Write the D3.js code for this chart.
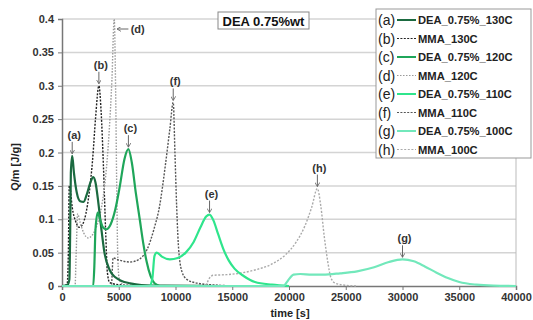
<!DOCTYPE html>
<html>
<head>
<meta charset="utf-8">
<script src="https://cdn.jsdelivr.net/npm/d3@7"></script>
<style>
  body { margin: 0; background: #fff; }
  svg { display: block; font-family: Arial, "Liberation Sans", sans-serif; }
  .tick text { font-weight: bold; font-size: 11px; fill: #333; }
  .grid line { stroke: #d4d4d4; stroke-width: 1.5; }
</style>
</head>
<body>
<svg id="chart" width="533" height="320"></svg>
<script>
'use strict';

// Tick values
const X_TICKS = [0, 5000, 10000, 15000, 20000, 25000, 30000, 35000, 40000];
const Y_TICKS = [0, 0.05, 0.1, 0.15, 0.2, 0.25, 0.3, 0.35, 0.4];

// Series, [time s, Q/m J/g]
const dea130 = [[0, 0], [500, 0.002], [650, 0.01], [720, 0.08], [780, 0.17], [900, 0.195], [1050, 0.17],
  [1300, 0.14], [1600, 0.127], [1900, 0.126], [2200, 0.138], [2500, 0.155], [2750, 0.163], [2950, 0.155],
  [3200, 0.125], [3450, 0.088], [3740, 0.05], [4200, 0.024], [4700, 0.013], [5200, 0.008],
  [6000, 0.004], [7000, 0.0015], [9000, 0.0005], [14000, 0]];
const mma130 = [[0, 0], [450, 0.002], [560, 0.05], [640, 0.15], [700, 0.148], [900, 0.118], [1200, 0.097],
  [1500, 0.088], [1800, 0.092], [2100, 0.108], [2400, 0.14], [2700, 0.19], [2950, 0.25], [3250, 0.3],
  [3450, 0.26], [3650, 0.18], [3850, 0.08], [4000, 0.02], [4200, 0.005], [5000, 0.002], [8000, 0]];
const dea120 = [[0, 0], [2750, 0], [2850, 0.03], [2950, 0.085], [3150, 0.11], [3350, 0.1], [3600, 0.088],
  [3900, 0.085], [4300, 0.093], [4700, 0.115], [5100, 0.15], [5500, 0.19], [5850, 0.205], [6150, 0.185],
  [6500, 0.14], [6850, 0.1], [7150, 0.065], [7450, 0.037], [7800, 0.015], [8150, 0.004], [8600, 0]];
const mma120 = [[0, 0], [1150, 0], [1250, 0.05], [1380, 0.108], [1600, 0.095], [1900, 0.08], [2300, 0.072],
  [2700, 0.077], [3100, 0.092], [3500, 0.12], [3850, 0.165], [4150, 0.23], [4400, 0.31], [4600, 0.4],
  [4720, 0.3], [4820, 0.15], [4920, 0.04], [5050, 0.01], [5400, 0.002], [7000, 0]];
const dea110 = [[0, 0], [7700, 0], [7950, 0.01], [8150, 0.045], [8350, 0.05], [8800, 0.044],
  [9500, 0.04], [10200, 0.042], [10900, 0.05], [11600, 0.066], [12200, 0.088], [12700, 0.104],
  [13000, 0.107], [13350, 0.098], [13750, 0.078], [14200, 0.056], [14700, 0.038], [15200, 0.026],
  [16000, 0.015], [17000, 0.006], [18500, 0.002], [20000, 0]];
const mma110 = [[0, 0], [4350, 0], [4500, 0.042], [5000, 0.039], [6000, 0.036], [6800, 0.04], [7500, 0.055],
  [8100, 0.085], [8600, 0.12], [9100, 0.18], [9500, 0.235], [9800, 0.275], [9950, 0.2], [10100, 0.12],
  [10300, 0.05], [10600, 0.02], [11000, 0.01], [12000, 0.004], [14000, 0.001], [16000, 0]];
const dea100 = [[0, 0], [19500, 0], [19900, 0.008], [20400, 0.017], [21000, 0.018], [22000, 0.017],
  [23000, 0.017], [24500, 0.019], [26000, 0.022], [27500, 0.028], [28800, 0.036], [30000, 0.04],
  [31000, 0.037], [32000, 0.029], [33000, 0.02], [34000, 0.012], [35000, 0.006], [36500, 0.002],
  [38000, 0.0005], [40000, 0]];
const mma100 = [[0, 0], [12600, 0], [13000, 0.012], [13300, 0.016], [14500, 0.017], [15600, 0.019],
  [17000, 0.024], [18500, 0.033], [19700, 0.047], [20600, 0.065], [21400, 0.09], [22000, 0.118],
  [22500, 0.146], [22800, 0.12], [23100, 0.075], [23400, 0.038], [23700, 0.012], [24100, 0.004],
  [25000, 0.001], [26000, 0]];

const SERIES = [
  { key: '(b)', name: 'MMA_130C', data: mma130, color: '#222', width: 1.4, dash: '2,1.4' },
  { key: '(d)', name: 'MMA_120C', data: mma120, color: '#9a9a9a', width: 1.4, dash: '1.5,1.5' },
  { key: '(f)', name: 'MMA_110C', data: mma110, color: '#555', width: 1.4, dash: '2,1.4' },
  { key: '(h)', name: 'MMA_100C', data: mma100, color: '#aaa', width: 1.4, dash: '2,1.6' },
  { key: '(a)', name: 'DEA_0.75%_130C', data: dea130, color: '#1b6a40', width: 2.2, dash: null },
  { key: '(c)', name: 'DEA_0.75%_120C', data: dea120, color: '#1fa65a', width: 2.2, dash: null },
  { key: '(e)', name: 'DEA_0.75%_110C', data: dea110, color: '#2fe58c', width: 2.2, dash: null },
  { key: '(g)', name: 'DEA_0.75%_100C', data: dea100, color: '#72e8bb', width: 2.2, dash: null }
];
const LEGEND_ORDER = ['(a)', '(b)', '(c)', '(d)', '(e)', '(f)', '(g)', '(h)'];

// Peak annotations: [label, time, value]
const PEAKS = [['(a)', 900, 0.195], ['(b)', 3250, 0.3], ['(c)', 5850, 0.205], ['(f)', 9800, 0.275],
  ['(e)', 13000, 0.107], ['(h)', 22500, 0.146], ['(g)', 30000, 0.04]];

const margin = { top: 19, left: 62, right: 17, bottom: 34 };
const width = 533, height = 320;

const svg = d3.select('#chart');

const x = d3.scaleLinear().domain([0, 40000]).range([margin.left, width - margin.right]);
const y = d3.scaleLinear().domain([0, 0.4]).range([height - margin.bottom, margin.top]);

// Grid
svg.append('g')
  .attr('class', 'grid')
  .selectAll('line')
  .data(Y_TICKS.slice(1))
  .enter()
  .append('line')
    .attr('x1', x(0))
    .attr('x2', x(40000))
    .attr('y1', d => y(d))
    .attr('y2', d => y(d));

svg.append('line')
  .attr('x1', x(40000)).attr('x2', x(40000))
  .attr('y1', y(0.4)).attr('y2', y(0))
  .attr('stroke', '#bbb');

// Axes
const xAxis = svg.append('g')
  .attr('transform', 'translate(0,' + y(0) + ')')
  .call(d3.axisBottom(x).tickValues(X_TICKS).tickFormat(d3.format('d')).tickSize(4).tickPadding(3));
const yAxis = svg.append('g')
  .attr('transform', 'translate(' + x(0) + ',0)')
  .call(d3.axisLeft(y).tickValues(Y_TICKS).tickFormat(d => d === 0 ? '0' : String(d)).tickSize(4).tickPadding(4));
[xAxis, yAxis].forEach(a => {
  a.select('.domain').attr('stroke', '#777').attr('stroke-width', 1.5);
  a.selectAll('.tick line').attr('stroke', '#777');
});

// Curves
const line = d3.line()
  .x(d => x(d[0]))
  .y(d => y(d[1]))
  .curve(d3.curveMonotoneX);

svg.append('g')
  .selectAll('path')
  .data(SERIES)
  .enter()
  .append('path')
    .attr('d', d => line(d.data))
    .attr('fill', 'none')
    .attr('stroke', d => d.color)
    .attr('stroke-width', d => d.width)
    .attr('stroke-dasharray', d => d.dash)
    .attr('stroke-linejoin', 'round');

// Peak labels with arrows
const defs = svg.append('defs');
defs.append('marker')
  .attr('id', 'arrow')
  .attr('viewBox', '0 0 6 6')
  .attr('refX', 5).attr('refY', 3)
  .attr('markerWidth', 5).attr('markerHeight', 5)
  .attr('orient', 'auto')
  .append('path')
    .attr('d', 'M0,0 L5,3 L0,6')
    .attr('fill', 'none')
    .attr('stroke', '#666')
    .attr('stroke-width', 1);

const peaks = svg.append('g')
  .selectAll('g')
  .data(PEAKS)
  .enter()
  .append('g');

peaks.append('line')
  .attr('x1', d => x(d[1]))
  .attr('x2', d => x(d[1]))
  .attr('y1', d => y(d[2]) - 14)
  .attr('y2', d => y(d[2]) - 2)
  .attr('stroke', '#666')
  .attr('marker-end', 'url(#arrow)');

peaks.append('text')
  .attr('x', d => x(d[1]) + 2)
  .attr('y', d => y(d[2]) - 17)
  .attr('text-anchor', 'middle')
  .attr('font-size', 11)
  .attr('font-weight', 'bold')
  .attr('fill', '#333')
  .text(d => d[0]);

// (d) label points left at the tallest peak
svg.append('line')
  .attr('x1', x(5850)).attr('x2', x(4850))
  .attr('y1', y(0.385)).attr('y2', y(0.385))
  .attr('stroke', '#666')
  .attr('marker-end', 'url(#arrow)');
svg.append('text')
  .attr('x', x(6050)).attr('y', y(0.385) + 4)
  .attr('font-size', 11).attr('font-weight', 'bold').attr('fill', '#333')
  .text('(d)');

// Title box
svg.append('rect')
  .attr('x', 218).attr('y', 12).attr('width', 91).attr('height', 17)
  .attr('fill', '#fff').attr('stroke', '#888');
svg.append('text')
  .attr('x', 263.5).attr('y', 25.5)
  .attr('text-anchor', 'middle')
  .attr('font-size', 13).attr('font-weight', 'bold').attr('fill', '#111')
  .text('DEA 0.75%wt');

// Legend
const legend = svg.append('g').attr('transform', 'translate(376,9)');
legend.append('rect')
  .attr('width', 155).attr('height', 149)
  .attr('fill', '#fff').attr('stroke', '#999');

const items = legend.selectAll('g.item')
  .data(LEGEND_ORDER.map(k => SERIES.find(s => s.key === k)))
  .enter()
  .append('g')
    .attr('class', 'item')
    .attr('transform', (d, i) => 'translate(0,' + (11 + i * 18.5) + ')');

items.append('text')
  .attr('x', 2).attr('y', 5)
  .attr('font-size', 14).attr('fill', '#222')
  .text(d => d.key);
items.append('line')
  .attr('x1', 21).attr('x2', 40)
  .attr('stroke', d => d.color)
  .attr('stroke-width', d => d.dash ? 1.2 : 2)
  .attr('stroke-dasharray', d => d.dash);
items.append('text')
  .attr('x', 42).attr('y', 4)
  .attr('font-size', 11.2).attr('font-weight', 'bold').attr('fill', '#222')
  .text(d => d.name);

// Axis titles
svg.append('text')
  .attr('transform', 'translate(19,167) rotate(-90)')
  .attr('text-anchor', 'middle')
  .attr('font-size', 11).attr('font-weight', 'bold').attr('fill', '#222')
  .text('Q/m [J/g]');
svg.append('text')
  .attr('x', 290).attr('y', 317)
  .attr('text-anchor', 'middle')
  .attr('font-size', 11).attr('font-weight', 'bold').attr('fill', '#222')
  .text('time [s]');
</script>
</body>
</html>
